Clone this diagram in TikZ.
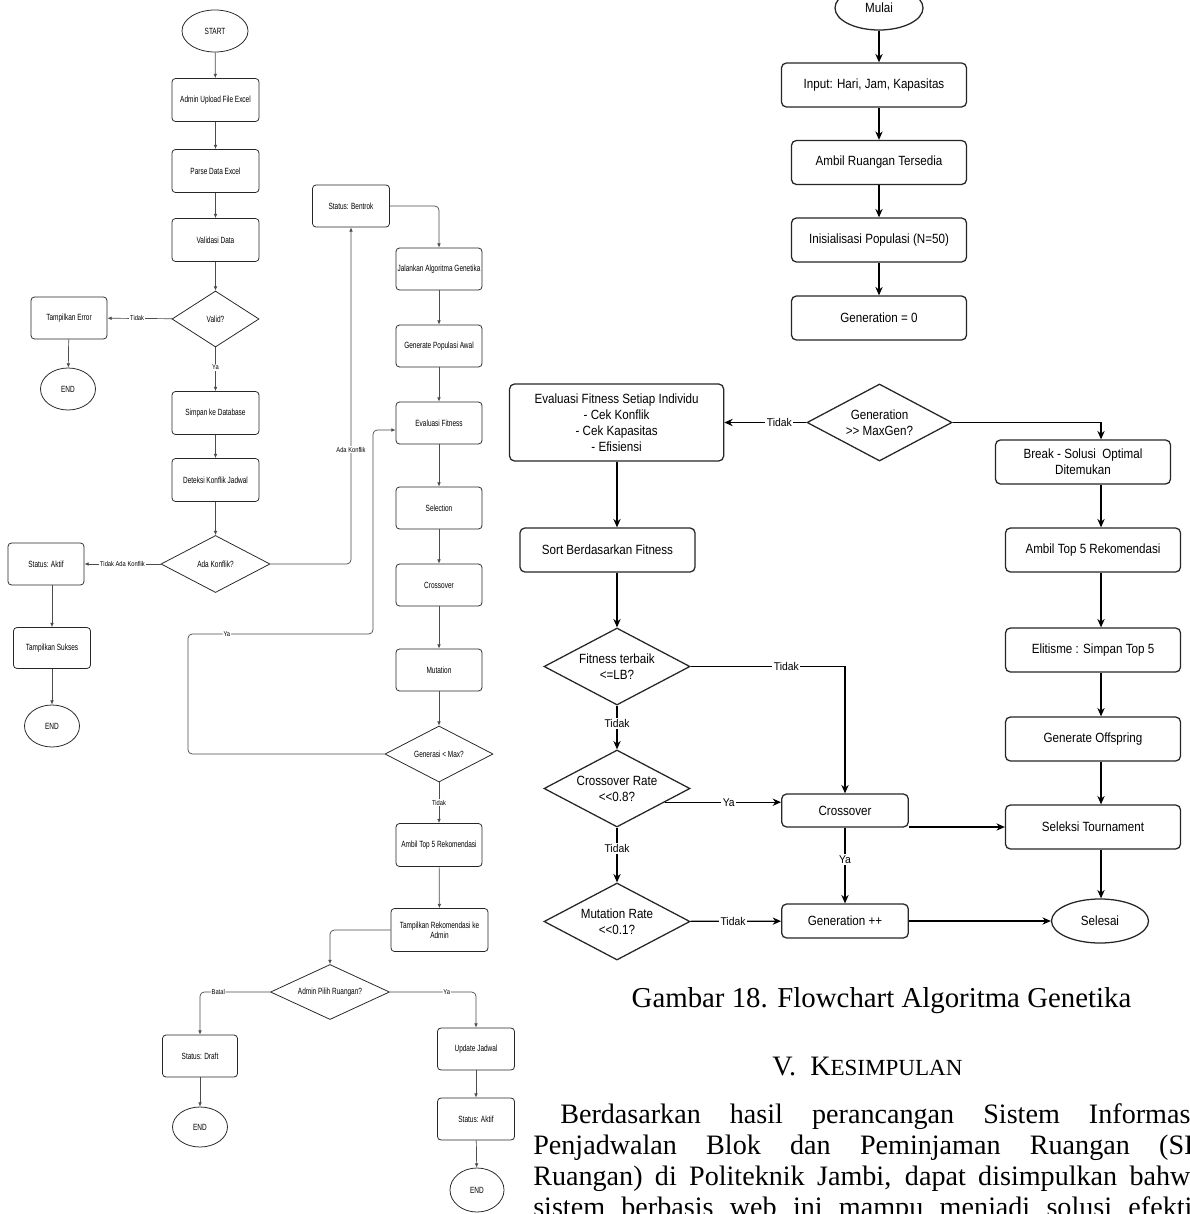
\documentclass[tikz,border=0pt]{standalone}
\usepackage{fontspec}
\setmainfont{Liberation Serif}
\newfontfamily\gafont[FakeStretch=0.87]{Liberation Sans}
\newfontfamily\gatagfont[FakeStretch=0.92]{Liberation Sans}
\newfontfamily\flowfont[FakeStretch=0.72]{Liberation Sans}
\newfontfamily\flowtagfont[FakeStretch=0.82]{Liberation Sans}
\usepackage{tikz}
\usetikzlibrary{shapes.geometric, arrows.meta, positioning}

\begin{document}
\begin{tikzpicture}[
    x=0.025cm, y=-0.025cm,
    process/.style={rectangle, draw=black!85, line width=0.55pt, rounded corners=2.5pt, minimum width=2.175cm, minimum height=1.075cm, inner sep=1pt, align=center, font=\flowfont\fontsize{6.4}{6.8}\selectfont},
    decision/.style={diamond, draw=black!85, line width=0.55pt, shape aspect=2, inner sep=0pt, align=center, font=\flowfont\fontsize{6.4}{6.8}\selectfont},
    terminal/.style={ellipse, draw=black!85, line width=0.55pt, minimum width=1.375cm, minimum height=1.05cm, inner sep=0pt, font=\flowfont\fontsize{6.4}{6.8}\selectfont},
    flow/.style={-{Latex[length=3pt,width=2.6pt]}, draw=black!70, line width=0.5pt},
    tag/.style={fill=white, inner sep=0.6pt, font=\flowtagfont\fontsize{5}{5}\selectfont},
    gabox/.style={rectangle, draw=black!85, line width=0.9pt, rounded corners=3.5pt, minimum width=4.375cm, minimum height=1.1cm, inner sep=2pt, align=center, font=\gafont\fontsize{9.5}{11.4}\selectfont},
    gadecision/.style={diamond, draw=black!85, line width=0.9pt, shape aspect=1.9, minimum width=3.65cm, minimum height=1.925cm, inner sep=0pt, align=center, font=\gafont\fontsize{9.5}{11.4}\selectfont},
    gaterminal/.style={ellipse, draw=black!85, line width=0.9pt, minimum width=2.425cm, minimum height=1.1cm, inner sep=0pt, font=\gafont\fontsize{9.5}{11.4}\selectfont},
    gaflow/.style={-{Stealth[length=6pt,width=5.2pt]}, line width=0.85pt},
    gatag/.style={fill=white, inner sep=1pt, font=\gatagfont\fontsize{8}{8}\selectfont}
]

\fill[white] (0,0) rectangle (1189,1214);
\useasboundingbox (0,0) rectangle (1189,1214);
\clip (0,0) rectangle (1189,1214);

% Upload and validation
\node[terminal, minimum width=1.65cm] (start) at (215,31) {START};
\node[process] (upload) at (215.5,100) {Admin Upload File Excel};
\node[process] (parse) at (215.5,171) {Parse Data Excel};
\node[process] (validasi) at (215.5,240) {Validasi Data};
\node[decision, minimum width=2.175cm, minimum height=1.4cm] (validq) at (215.5,319) {Valid?};
\node[process, minimum width=1.9cm, minimum height=1.05cm] (error) at (69,318) {Tampilkan Error};
\node[terminal] (end1) at (68,389) {END};
\node[process] (simpan) at (215.5,413) {Simpan ke Database};
\node[process] (deteksi) at (215.5,480) {Deteksi Konflik Jadwal};
\node[decision, minimum width=2.725cm, minimum height=1.425cm] (ada) at (215.5,564) {Ada Konflik?};
\node[process, minimum width=1.9cm, minimum height=1.05cm] (aktif1) at (46,564) {Status: Aktif};
\node[process, minimum width=1.925cm, minimum height=1.025cm] (sukses) at (52,648) {Tampilkan Sukses};
\node[terminal] (end2) at (52,726) {END};

% Genetic algorithm loop
\node[process, minimum width=1.925cm, minimum height=1.05cm] (bentrok) at (351,206) {Status: Bentrok};
\node[process, minimum width=2.15cm, minimum height=1.05cm] (jalankan) at (439,269) {Jalankan Algoritma Genetika};
\node[process, minimum width=2.15cm, minimum height=1.05cm] (genpop) at (439,346) {Generate Populasi Awal};
\node[process, minimum width=2.15cm, minimum height=1.05cm] (evalf) at (439,423) {Evaluasi Fitness};
\node[process, minimum width=2.15cm, minimum height=1.05cm] (selection) at (439,508) {Selection};
\node[process, minimum width=2.15cm, minimum height=1.05cm] (crossover) at (439,585) {Crossover};
\node[process, minimum width=2.15cm, minimum height=1.05cm] (mutation) at (439,670) {Mutation};
\node[decision, minimum width=2.7cm, minimum height=1.4cm] (genmax) at (439,754) {Generasi < Max?};
\node[process, minimum width=2.15cm, minimum height=1.075cm] (top5) at (439,845) {Ambil Top 5 Rekomendasi};
\node[process, minimum width=2.425cm, minimum height=1.075cm] (tampilrek) at (439.5,930) {Tampilkan Rekomendasi ke\\Admin};
\coordinate (yaturn) at (188,634);
\coordinate (yaup) at (373,634);

% Admin choice
\node[decision, minimum width=2.975cm, minimum height=1.375cm] (pilih) at (330,992) {Admin Pilih Ruangan?};
\node[process, minimum width=1.875cm, minimum height=1.05cm] (draft) at (200,1056) {Status: Draft};
\node[terminal, minimum height=1cm] (end3) at (200,1127) {END};
\node[process, minimum width=1.925cm, minimum height=1.05cm] (update) at (476,1049) {Update Jadwal};
\node[process, minimum width=1.925cm, minimum height=1.05cm] (aktif2) at (476,1119) {Status: Aktif};
\node[terminal, minimum width=1.35cm, minimum height=1.1cm] (end4) at (477,1190) {END};

% Arrows of the left chart
\draw[flow] (start) -- (upload);
\draw[flow] (upload) -- (parse);
\draw[flow] (parse) -- (validasi);
\draw[flow] (validasi) -- (validq);
\draw[flow] (validq) -- node[tag, pos=0.54] {Tidak} (error);
\draw[flow] (error) -- (end1);
\draw[flow] (validq) -- node[tag, pos=0.46] {Ya} (simpan);
\draw[flow] (simpan) -- (deteksi);
\draw[flow] (deteksi) -- (ada);
\draw[flow] (ada) -- node[tag, pos=0.5] {Tidak Ada Konflik} (aktif1);
\draw[flow] (aktif1.south -| sukses.north) -- (sukses.north);
\draw[flow] (sukses) -- (end2);
\draw[flow, rounded corners=3pt] (ada.east) -| node[tag, pos=0.67] {Ada Konflik} (bentrok.south);
\draw[flow, rounded corners=3pt] (bentrok.east) -| (jalankan.north);
\draw[flow] (jalankan) -- (genpop);
\draw[flow] (genpop) -- (evalf);
\draw[flow] (evalf) -- (selection);
\draw[flow] (selection) -- (crossover);
\draw[flow] (crossover) -- (mutation);
\draw[flow] (mutation) -- (genmax);
\draw[flow, rounded corners=3pt] (genmax.west) -| (yaturn) -- node[tag, pos=0.21] {Ya} (yaup) |- ([yshift=-0.175cm]evalf.west);
\draw[flow] (genmax) -- node[tag, pos=0.5] {Tidak} (top5);
\draw[flow] (top5) -- (tampilrek);
\draw[flow, rounded corners=3pt] (tampilrek.west) -| (pilih.north);
\draw[flow, rounded corners=3pt] (pilih.west) -| node[tag, pos=0.37] {Batal} (draft.north);
\draw[flow] (draft) -- (end3);
\draw[flow, rounded corners=3pt] (pilih.east) -| node[tag, pos=0.33] {Ya} (update.north);
\draw[flow] (update) -- (aktif2);
\draw[flow] (aktif2) -- (end4);

% Initialisation
\node[gaterminal, minimum width=2.2cm] (mulai) at (879,8) {Mulai};
\node[gabox, minimum width=4.625cm] (input) at (874,85) {Input: Hari, Jam, Kapasitas};
\node[gabox] (ambilr) at (879,162.5) {Ambil Ruangan Tersedia};
\node[gabox] (init) at (879,240) {Inisialisasi Populasi (N=50)};
\node[gabox] (gen0) at (879,318) {Generation = 0};

% Main loop
\node[gadecision, minimum width=3.625cm] (maxgen) at (879.5,422.5) {Generation\\>> MaxGen?};
\node[gabox, minimum width=5.35cm, minimum height=1.925cm] (evaluasi) at (616.6,422.5) {Evaluasi Fitness Setiap Individu\\- Cek Konflik\\- Cek Kapasitas\\- Efisiensi};
\node[gabox] (sort) at (607.5,550) {Sort Berdasarkan Fitness};
\node[gadecision] (fitness) at (617,666.5) {Fitness terbaik\\<=LB?};
\node[gadecision] (crossrate) at (617,788.5) {Crossover Rate\\<<0.8?};
\node[gadecision] (mutrate) at (617,921.5) {Mutation Rate\\<<0.1?};
\node[gabox, minimum width=3.165cm, minimum height=0.825cm] (xover) at (845,810.5) {Crossover};
\node[gabox, minimum width=3.165cm, minimum height=0.85cm] (genpp) at (845,921) {Generation ++};

% Result column
\node[gabox] (brk) at (1083,462) {Break - Solusi\ \ Optimal\\Ditemukan};
\node[gabox] (top5r) at (1093,550) {Ambil Top 5 Rekomendasi};
\node[gabox] (elit) at (1093,650) {Elitisme : Simpan Top 5};
\node[gabox] (offspring) at (1093,739) {Generate Offspring};
\node[gabox] (seleksi) at (1093,827) {Seleksi Tournament};
\node[gaterminal] (selesai) at (1100,921) {Selesai};
\coordinate (rcol) at (1101,0);
\coordinate (lcol) at (617,0);

% Arrows of the right chart
\draw[gaflow] (mulai) -- (mulai |- input.north);
\draw[gaflow] (input.south -| ambilr) -- (ambilr.north);
\draw[gaflow] (ambilr) -- (init);
\draw[gaflow] (init) -- (gen0);
\draw[gaflow] (maxgen.west) -- node[gatag, pos=0.33] {Tidak} (evaluasi.east);
\draw[gaflow] (maxgen.east) -| (rcol |- brk.north);
\draw[gaflow] (lcol |- evaluasi.south) -- (lcol |- sort.north);
\draw[gaflow] (lcol |- sort.south) -- (fitness.north);
\draw[gaflow] (fitness) -- node[gatag, pos=0.4] {Tidak} (crossrate);
\draw[gaflow] (crossrate) -- node[gatag, pos=0.375] {Tidak} (mutrate);
\draw[gaflow] (fitness.east) -| node[gatag, pos=0.31] {Tidak} (xover.north);
\draw[gaflow] (crossrate.-16) -- node[gatag, pos=0.55] {Ya} (crossrate.-16 -| xover.west);
\draw[gaflow] (xover.east |- seleksi.west) -- (seleksi.west);
\draw[gaflow] (xover) -- node[gatag, pos=0.42] {Ya} (genpp);
\draw[gaflow] (mutrate) -- node[gatag, pos=0.47] {Tidak} (genpp);
\draw[gaflow] (genpp) -- (selesai);
\draw[gaflow] (rcol |- brk.south) -- (rcol |- top5r.north);
\draw[gaflow] (rcol |- top5r.south) -- (rcol |- elit.north);
\draw[gaflow] (rcol |- elit.south) -- (rcol |- offspring.north);
\draw[gaflow] (rcol |- offspring.south) -- (rcol |- seleksi.north);
\draw[gaflow] (rcol |- seleksi.south) -- (rcol |- selesai.north);

% Caption and text
\node[anchor=base, inner sep=0, font=\fontsize{20.5}{24}\selectfont] (caption) at (881.5,1007) {Gambar 18. Flowchart Algoritma Genetika};
\node[anchor=base, inner sep=0, font=\fontsize{20}{24}\selectfont] (heading) at (867.5,1075) {V.\ \ K{\fontsize{16.4}{18}\selectfont ESIMPULAN}};
\node[anchor=base west, inner sep=0, font=\fontsize{20}{24}\selectfont] (par1) at (560,1123) {\makebox[15.75cm][s]{Berdasarkan hasil perancangan Sistem Informas}};
\node[anchor=base west, inner sep=0, font=\fontsize{20}{24}\selectfont] (par2) at (533,1154) {\makebox[16.5cm][s]{Penjadwalan Blok dan Peminjaman Ruangan (SI}};
\node[anchor=base west, inner sep=0, font=\fontsize{20}{24}\selectfont] (par3) at (533,1185) {\makebox[16.425cm][s]{Ruangan) di Politeknik Jambi, dapat disimpulkan bahw}};
\node[anchor=base west, inner sep=0, font=\fontsize{20}{24}\selectfont] (par4) at (533,1216) {\makebox[16.475cm][s]{sistem berbasis web ini mampu menjadi solusi efekti}};

\end{tikzpicture}
\end{document}
